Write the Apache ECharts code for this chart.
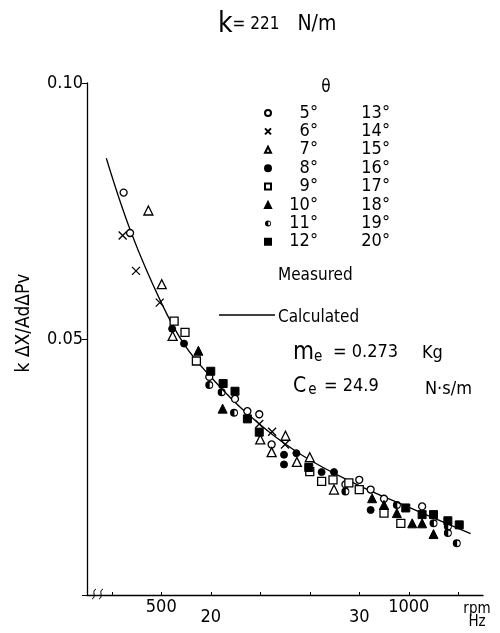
<!DOCTYPE html>
<html>
<head>
<meta charset="utf-8">
<script src="https://cdn.jsdelivr.net/npm/echarts@6/dist/echarts.min.js"></script>
<style>
  html, body { margin: 0; padding: 0; background: #fff; }
  #chart { width: 500px; height: 633px; }
</style>
</head>
<body>
<div id="chart"></div>
<script>
  // axes
  const rpmTicks = [400, 500, 600, 700, 800, 900, 1000, 1100];
  const rpmLabels = [500, 1000];
  const hzLabels = [20, 30];
  const rpmPerHz = 30;
  const anglesLow = ['5°', '6°', '7°', '8°', '9°', '10°', '11°', '12°'];
  const anglesHigh = ['13°', '14°', '15°', '16°', '17°', '18°', '19°', '20°'];

  // calculated curve
  const calcRpm = [389, 440, 500, 546, 600, 673, 778, 899, 996, 1125];
  const calcVal = [0.0853, 0.0706, 0.0571, 0.0490, 0.0426, 0.0355, 0.0277, 0.0214, 0.0173, 0.0120];

  // measured, one array per marker
  const openCircle = [[424, 0.0786], [437, 0.0707], [597, 0.0426], [649, 0.0383], [674, 0.0359], [698, 0.0353],
    [723, 0.0294], [872, 0.0216], [900, 0.0225], [923, 0.0206], [950, 0.0188], [1027, 0.0173]];
  const cross = [[422, 0.0702], [449, 0.0633], [497, 0.0571], [698, 0.0334], [724, 0.0319], [750, 0.0294]];
  const openTriangle = [[474, 0.0751], [501, 0.0607], [523, 0.0506], [700, 0.0304], [723, 0.0279], [751, 0.0311],
    [774, 0.0260], [800, 0.0269], [849, 0.0206]];
  const filledCircle = [[522, 0.0520], [546, 0.0491], [748, 0.0274], [748, 0.0255], [773, 0.0277], [824, 0.0240],
    [849, 0.0240], [923, 0.0166]];
  const openSquare = [[526, 0.0535], [548, 0.0513], [571, 0.0457], [800, 0.0241], [824, 0.0222], [847, 0.0225],
    [879, 0.0219], [900, 0.0206], [950, 0.0160], [984, 0.0140]];
  const filledTriangle = [[575, 0.0477], [624, 0.0364], [926, 0.0189], [950, 0.0176], [976, 0.0160], [1007, 0.0140],
    [1027, 0.0140], [1050, 0.0119]];
  const halfCircle = [[597, 0.0410], [622, 0.0396], [647, 0.0356], [872, 0.0202], [976, 0.0176], [1050, 0.0140],
    [1079, 0.0134], [1079, 0.0121], [1097, 0.0101]];
  const filledSquare = [[600, 0.0437], [625, 0.0413], [649, 0.0398], [674, 0.0344], [698, 0.0318], [798, 0.0249],
    [994, 0.0170], [1027, 0.0157], [1050, 0.0157], [1079, 0.0145], [1102, 0.0137]];

  const measured = [openCircle, cross, openTriangle, filledCircle, openSquare, filledTriangle, halfCircle, filledSquare];

  const F = "'Liberation Sans Narrow', 'DejaVu Sans Condensed', 'DejaVu Sans', sans-serif";
  // ring with the left half filled in
  const halfPath = 'path://M0,-10A10,10,0,1,1,0,10A10,10,0,1,1,0,-10ZM1,-6.5L1,6.5A6.5,6.5,0,0,0,1,-6.5Z';
  const markers = [
    {symbol: 'circle', size: 7, color: '#fff', border: 1.3},
    {symbol: 'path://M0,0L10,10M10,0L0,10', size: 8, color: 'rgba(0,0,0,0)', border: 1.3},
    {symbol: 'triangle', size: 9, color: '#fff', border: 1.3},
    {symbol: 'circle', size: 7, color: '#000', border: 1},
    {symbol: 'rect', size: 8, color: '#fff', border: 1.3},
    {symbol: 'triangle', size: 9, color: '#000', border: 1},
    {symbol: halfPath, size: 8, color: '#000', border: 0},
    {symbol: 'rect', size: 8, color: '#000', border: 1}
  ];

  const chart = echarts.init(document.getElementById('chart'));

  const series = measured.map((pts, i) => ({
    name: anglesLow[i],
    type: 'scatter',
    data: pts,
    symbol: markers[i].symbol,
    symbolSize: markers[i].size,
    itemStyle: {color: markers[i].color, borderColor: '#000', borderWidth: markers[i].border, opacity: 1},
    z: 3
  }));
  series.unshift({
    name: 'Calculated',
    type: 'line',
    data: calcRpm.map((r, i) => [r, calcVal[i]]),
    smooth: 0.4,
    showSymbol: false,
    lineStyle: {color: '#000', width: 1.3},
    z: 2
  });

  const option = {
    backgroundColor: '#fff',
    animation: false,
    grid: {left: 87, right: 17, top: 83, bottom: 38},
    xAxis: {
      type: 'value',
      min: 350,
      max: 1150,
      axisLine: {lineStyle: {color: '#000', width: 1.3}},
      axisTick: {customValues: rpmTicks, inside: true, length: 3, lineStyle: {color: '#000'}},
      axisLabel: {
        customValues: rpmLabels.concat(hzLabels.map(h => h * rpmPerHz)),
        margin: 3,
        formatter: v => rpmLabels.includes(v) ? '{r|' + v + '}' : '{h|' + (v / rpmPerHz) + '}',
        rich: {
          r: {fontSize: 18, fontFamily: F, color: '#000'},
          h: {fontSize: 18, fontFamily: F, color: '#000', padding: [10, 0, 0, 0]}
        }
      },
      splitLine: {show: false},
      name: 'rpm\nHz',
      nameLocation: 'end',
      nameGap: -6,
      nameTextStyle: {fontSize: 15, fontFamily: F, color: '#000', align: 'center', verticalAlign: 'top',
        lineHeight: 13, padding: [8, 0, 0, 0]}
    },
    yAxis: {
      type: 'value',
      min: 0,
      max: 0.1,
      interval: 0.05,
      axisLine: {show: true, lineStyle: {color: '#000', width: 1.3}},
      axisTick: {show: true, length: 5, lineStyle: {color: '#000'}},
      axisLabel: {
        margin: 4,
        fontSize: 18,
        fontFamily: F,
        color: '#000',
        formatter: v => v === 0 ? '' : v.toFixed(2)
      },
      splitLine: {show: false}
    },
    legend: {
      data: anglesLow,
      orient: 'vertical',
      left: 264,
      top: 104,
      itemWidth: 6,
      itemHeight: 6,
      itemGap: 0.4,
      padding: 0,
      selectedMode: false,
      formatter: name => '{a|' + name + '}{b|' + anglesHigh[anglesLow.indexOf(name)] + '}',
      textStyle: {
        rich: {
          a: {width: 42, align: 'right', fontSize: 18, lineHeight: 18, fontFamily: F, color: '#000'},
          b: {width: 72, align: 'right', fontSize: 18, lineHeight: 18, fontFamily: F, color: '#000'}
        }
      }
    },
    graphic: [
      {type: 'text', x: 218, y: 25, style: {
        text: '{k|k}{t|= 221}{u|   N/m}', verticalAlign: 'middle', align: 'left',
        rich: {
          k: {fontSize: 28, fontFamily: F, fill: '#000'},
          t: {fontSize: 17, fontFamily: F, fill: '#000'},
          u: {fontSize: 21, fontFamily: F, fill: '#000'}
        }}},
      {type: 'text', x: 24, y: 323, rotation: Math.PI / 2, style: {
        text: 'k ΔX/AdΔPv', fontSize: 19, fontFamily: F, fill: '#000', align: 'center', verticalAlign: 'middle'}},
      {type: 'text', x: 326, y: 88, style: {
        text: 'θ', fontSize: 17, fontFamily: F, fill: '#000', align: 'center', verticalAlign: 'middle'}},
      {type: 'text', x: 278, y: 276, style: {
        text: 'Measured', fontSize: 17, fontFamily: F, fill: '#000', align: 'left', verticalAlign: 'middle'}},
      {type: 'line', shape: {x1: 219, y1: 315, x2: 275, y2: 315}, style: {stroke: '#000', lineWidth: 1.3}},
      {type: 'text', x: 278, y: 318, style: {
        text: 'Calculated', fontSize: 17, fontFamily: F, fill: '#000', align: 'left', verticalAlign: 'middle'}},
      {type: 'text', x: 293, y: 353, style: {
        text: '{m|m}{e|e}', align: 'left', verticalAlign: 'middle',
        rich: {m: {fontSize: 24, fontFamily: F, fill: '#000'}, e: {fontSize: 15, fontFamily: F, fill: '#000', padding: [8, 0, 0, 0]}}}},
      {type: 'text', x: 333, y: 352, style: {
        text: '= 0.273', fontSize: 18, fontFamily: F, fill: '#000', align: 'left', verticalAlign: 'middle'}},
      {type: 'text', x: 422, y: 353, style: {
        text: 'Kg', fontSize: 18, fontFamily: F, fill: '#000', align: 'left', verticalAlign: 'middle'}},
      {type: 'text', x: 293, y: 387, style: {
        text: '{c|C}{e|e}', align: 'left', verticalAlign: 'middle',
        rich: {c: {fontSize: 21, fontFamily: F, fill: '#000'}, e: {fontSize: 15, fontFamily: F, fill: '#000', padding: [6, 0, 0, 2]}}}},
      {type: 'text', x: 324, y: 386, style: {
        text: '= 24.9', fontSize: 18, fontFamily: F, fill: '#000', align: 'left', verticalAlign: 'middle'}},
      {type: 'text', x: 425, y: 389, style: {
        text: 'N·s/m', fontSize: 18, fontFamily: F, fill: '#000', align: 'left', verticalAlign: 'middle'}},
      {type: 'bezierCurve', shape: {x1: 92, y1: 599, cpx1: 97, cpy1: 597, cpx2: 91, cpy2: 591, x2: 96, y2: 589},
        style: {stroke: '#000', lineWidth: 1, fill: null}},
      {type: 'bezierCurve', shape: {x1: 99, y1: 599, cpx1: 104, cpy1: 597, cpx2: 98, cpy2: 591, x2: 103, y2: 589},
        style: {stroke: '#000', lineWidth: 1, fill: null}}
    ],
    series: series
  };

  chart.setOption(option);
</script>
</body>
</html>
